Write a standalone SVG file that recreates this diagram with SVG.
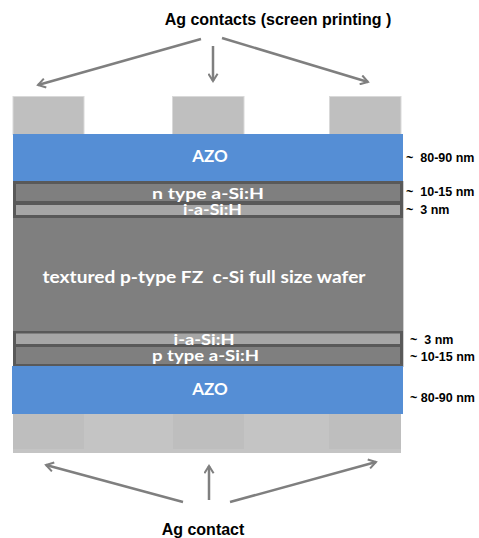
<svg xmlns="http://www.w3.org/2000/svg" width="479" height="538" viewBox="0 0 479 538">
<defs>
<style>
.ag{fill:#bfbfbf;stroke:#d9d9d9;stroke-width:1}
.azo{fill:#558ed5}
.dark{fill:#595959}
.wafer{fill:#7f7f7f}
.ilay{fill:#a6a6a6}
.nlay{fill:#7f7f7f}
text{white-space:pre}
.lt{font-family:Lato,"Open Sans","Liberation Sans",sans-serif;font-weight:bold;fill:#ffffff;text-anchor:middle}
.cap{font-family:"Liberation Sans",Arial,sans-serif;font-weight:bold;fill:#000000;text-anchor:middle;font-size:16px}
.nm{font-family:"Liberation Sans",Arial,sans-serif;font-weight:bold;fill:#000000;font-size:12.5px}
.arr{stroke:#7f7f7f;stroke-width:2.5;fill:none;marker-end:url(#ah)}
</style>
<marker id="ah" viewBox="0 0 12 12" refX="10" refY="6" markerWidth="4.4" markerHeight="4.4" orient="auto" markerUnits="strokeWidth">
<path d="M2,1 L10,6 L2,11" fill="none" stroke="#7f7f7f" stroke-width="2.2" stroke-linejoin="miter"/>
</marker>
</defs>
<rect width="479" height="538" fill="#ffffff"/>

<g id="title-top"><text class="cap" x="278" y="25">Ag contacts (screen printing )</text></g>

<g id="top-contacts">
<rect class="ag" x="13" y="96.5" width="71" height="38"/>
<rect class="ag" x="172.5" y="96.5" width="71.5" height="38"/>
<rect class="ag" x="329.5" y="96.5" width="71.5" height="38"/>
</g>

<g id="azo-top">
<rect class="azo" x="13" y="134" width="390" height="48"/>
<text class="lt" x="210" y="162" font-size="17">AZO</text>
</g>

<g id="wafer">
<rect class="dark" x="13" y="181" width="390" height="37"/>
<rect class="wafer" x="13" y="218" width="390" height="113"/>
<rect class="dark" x="13" y="331" width="390" height="36"/>
<line x1="403.5" y1="181" x2="403.5" y2="367" stroke="#d0d0d0" stroke-width="1"/>
<text class="lt" x="204" y="283" font-size="17" textLength="323" lengthAdjust="spacingAndGlyphs">textured p-type FZ  c-Si full size wafer</text>
</g>

<g id="n-layer">
<rect class="nlay" x="16" y="184" width="384" height="17"/>
<text class="lt" x="208" y="198.5" font-size="15.5" textLength="112" lengthAdjust="spacingAndGlyphs">n type a-Si:H</text>
</g>
<g id="i-layer-top">
<rect class="ilay" x="16" y="205" width="384" height="10"/>
<text class="lt" x="212.5" y="214.5" font-size="15.5" textLength="59" lengthAdjust="spacingAndGlyphs">i-a-Si:H</text>
</g>

<g id="i-layer-bottom">
<rect class="ilay" x="16" y="333.5" width="384" height="10.5"/>
<text class="lt" x="204" y="345" font-size="15.5" textLength="61" lengthAdjust="spacingAndGlyphs">i-a-Si:H</text>
</g>
<g id="p-layer">
<rect class="nlay" x="16" y="347" width="384" height="17"/>
<text class="lt" x="205.5" y="361" font-size="15.5" textLength="107" lengthAdjust="spacingAndGlyphs">p type a-Si:H</text>
</g>

<g id="azo-bottom">
<rect class="azo" x="12" y="366" width="391" height="48"/>
<text class="lt" x="210" y="395" font-size="17">AZO</text>
</g>

<g id="bottom-contact">
<rect x="13" y="414" width="388" height="39" fill="#c4c4c4"/>
<rect x="13" y="414" width="71" height="35" fill="#bebebe"/>
<rect x="173" y="414" width="71" height="35" fill="#bebebe"/>
<rect x="329" y="414" width="72" height="35" fill="#bebebe"/>
</g>

<g id="thickness-labels">
<text class="nm" x="406" y="162">~  80-90 nm</text>
<text class="nm" x="406" y="196">~  10-15 nm</text>
<text class="nm" x="406" y="214">~  3 nm</text>
<text class="nm" x="410" y="344">~  3 nm</text>
<text class="nm" x="410" y="361">~ 10-15 nm</text>
<text class="nm" x="410" y="402">~ 80-90 nm</text>
</g>

<g id="title-bottom"><text class="cap" x="203" y="535">Ag contact</text></g>

<g id="connectors">
<line class="arr" x1="201" y1="39" x2="38" y2="85"/>
<line class="arr" x1="213" y1="46" x2="213" y2="81"/>
<line class="arr" x1="222" y1="38" x2="368" y2="82"/>
<line class="arr" x1="183" y1="502" x2="46" y2="465"/>
<line class="arr" x1="209" y1="500" x2="209" y2="466"/>
<line class="arr" x1="230" y1="502" x2="376" y2="462"/>
</g>
</svg>
